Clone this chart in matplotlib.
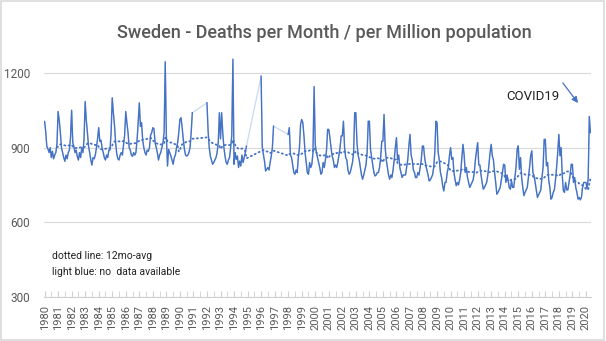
import numpy as np
import pandas as pd
import matplotlib
matplotlib.use("Agg")
import matplotlib.pyplot as plt
from matplotlib.patches import Rectangle

nan = np.nan

# monthly deaths per million population, Jan..Dec, one line per year
d1980s = [
    1005, 965, 905, 895, 880, 900, 860, 885, 855, 870, 880, 915,   # 1980
    1045, 1010, 960, 900, 880, 860, 845, 870, 855, 880, 890, 940,  # 1981
    1050, 920, 905, 880, 890, 865, 850, 880, 860, 900, 880, 935,   # 1982
    1085, 1010, 960, 905, 880, 850, 830, 860, 855, 870, 900, 935,  # 1983
    980, 925, 930, 900, 880, 860, 850, 870, 860, 890, 890, 960,    # 1984
    1100, 1040, 990, 920, 875, 855, 850, 870, 880, 870, 910, 950,  # 1985
    1045, 1000, 960, 900, 890, 870, 865, 880, 870, 880, 930, 1000, # 1986
    1080, 985, 1000, 930, 900, 880, 870, 890, 885, 900, 950, 960,  # 1987
    980, 975, 920, 900, 880, 850, 870, 880, 900, 920, 960, 1245,   # 1988
    950, 826, 893, 880, 866, 850, 833, 860, 870, 900, 920, 960,    # 1989
]
d1990s = [
    1013, 1020, 980, 933, 893, 870, 866, 870, 880, 900, 960, 1040, # 1990
    nan, nan, nan, nan, nan, nan, nan, nan, nan, nan, nan, nan,    # 1991
    1080, 967, 900, 866, 850, 833, 840, 850, 860, 880, 920, 1040,  # 1992
    935, 1040, 960, 900, 866, 840, 833, 850, 860, 900, 950, 1255,  # 1993
    833, 880, 853, 866, 820, 846, 826, 870, 840, 860, 880, 906,    # 1994
    nan, nan, nan, nan, nan, nan, nan, nan, nan, nan, nan, nan,    # 1995
    1187, 905, 873, 846, 806, 813, 820, 810, 840, 866, 900, 986,   # 1996
    nan, nan, nan, nan, nan, nan, nan, nan, nan, nan, nan, nan,    # 1997
    953, 980, 870, 860, 830, 800, 793, 810, 800, 860, 900, 993,    # 1998
    1013, 1000, 946, 880, 840, 800, 793, 840, 820, 833, 880, 1145, # 1999
]
d2000s = [
    913, 880, 860, 840, 820, 793, 800, 840, 820, 850, 890, 973,    # 2000
    973, 940, 900, 866, 850, 820, 830, 820, 840, 870, 900, 947,    # 2001
    947, 1006, 900, 860, 850, 810, 793, 800, 820, 840, 880, 1040,  # 2002
    1040, 920, 870, 850, 820, 790, 773, 790, 810, 830, 880, 1006,  # 2003
    1006, 893, 860, 830, 800, 786, 790, 800, 800, 820, 860, 926,   # 2004
    926, 1033, 900, 850, 820, 790, 773, 790, 780, 810, 850, 900,   # 2005
    940, 850, 870, 820, 800, 780, 790, 790, 790, 820, 850, 906,    # 2006
    953, 870, 850, 810, 800, 779, 780, 800, 790, 820, 850, 906,    # 2007
    906, 860, 830, 810, 790, 766, 770, 780, 790, 820, 880, 1006,   # 2008
    1000, 880, 850, 800, 780, 746, 726, 760, 760, 800, 820, 867,   # 2009
]
d2010s = [
    900, 853, 860, 800, 770, 747, 760, 750, 770, 800, 860, 913,    # 2010
    870, 800, 820, 780, 760, 740, 750, 760, 770, 800, 850, 887,    # 2011
    920, 830, 830, 790, 760, 733, 740, 750, 760, 790, 830, 880,    # 2012
    913, 867, 850, 800, 760, 713, 720, 730, 740, 770, 800, 833,    # 2013
    830, 760, 790, 770, 740, 733, 767, 740, 740, 780, 820, 893,    # 2014
    907, 813, 860, 780, 740, 707, 720, 730, 740, 780, 820, 867,    # 2015
    887, 800, 787, 760, 730, 700, 710, 720, 730, 780, 820, 933,    # 2016
    933, 827, 840, 770, 740, 693, 700, 720, 730, 770, 820, 880,    # 2017
    953, 867, 900, 790, 727, 720, 760, 730, 730, 760, 790, 833,    # 2018
    833, 760, 780, 740, 720, 693, 700, 690, 700, 740, 760, 760,    # 2019
]
d2020s = [760, 735, 775, 1025, 960]                               # 2020

years = [str(y) for y in range(1980, 2021)]

monthly = np.array(d1980s + d1990s + d2000s + d2010s + d2020s, dtype=float)
x = np.arange(len(monthly))
ok = ~np.isnan(monthly)
avg12 = pd.Series(monthly[ok]).rolling(12).mean().to_numpy()

plt.rcParams['font.family'] = ['Roboto', 'DejaVu Sans']

fig = plt.figure(figsize=(6.06, 3.41), dpi=100)
ax = fig.add_axes([44 / 606, 44 / 341, 547 / 606, 249 / 341])

# gaps bridged in light blue, real data in dark blue on top
ax.plot(x[ok], monthly[ok], color='#CBD9F0', lw=0.9, zorder=2)
ax.plot(x, monthly, color='#4472C4', lw=1.0, zorder=3)
ax.plot(x[ok], avg12, color='#4472C4', lw=1.3, linestyle=(0, (0.6, 1.8)),
        dash_capstyle='round', zorder=4)

ax.set_xlim(-0.5, len(monthly) - 0.5)
ax.set_ylim(300, 1300)
ax.set_yticks([300, 600, 900, 1200])
ax.set_xticks(x[::12])
ax.set_xticklabels(years, rotation=90, fontsize=8, color='#595959')
ax.set_xticks(x[::6], minor=True)
ax.tick_params(axis='y', length=0, labelsize=8.5, labelcolor='#595959', pad=10)
ax.tick_params(axis='x', which='both', direction='in', length=4,
               color='#D0D0D0', pad=6)
ax.grid(axis='y', color='#D9D9D9', lw=0.8)
ax.set_axisbelow(True)
for s in ['top', 'right', 'left']:
    ax.spines[s].set_visible(False)
ax.spines['bottom'].set_color('#D0D0D0')

ax.text(6.5, 465, 'dotted line: 12mo-avg', fontsize=7.5, color='#222222', va='center')
ax.text(6.5, 402, 'light blue: no  data available', fontsize=7.5, color='#222222', va='center')

ax.text(433, 1107, 'COVID19', fontsize=9.5, color='#222222', ha='center', va='center')
ax.annotate('', xy=(473, 1079), xytext=(459.5, 1160),
            arrowprops=dict(arrowstyle='-|>', color='#4472C4', lw=0.9,
                            mutation_scale=9, shrinkA=0, shrinkB=0))

fig.text(0.535, 0.903, 'Sweden - Deaths per Month / per Million population',
         ha='center', va='center', fontsize=13, color='#595959', fontweight='medium')
fig.patches.append(Rectangle((0.002, 0.004), 0.994, 0.992, transform=fig.transFigure,
                             fill=False, edgecolor='#D9D9D9', lw=1.2))

fig.savefig('out.png', dpi=100)
